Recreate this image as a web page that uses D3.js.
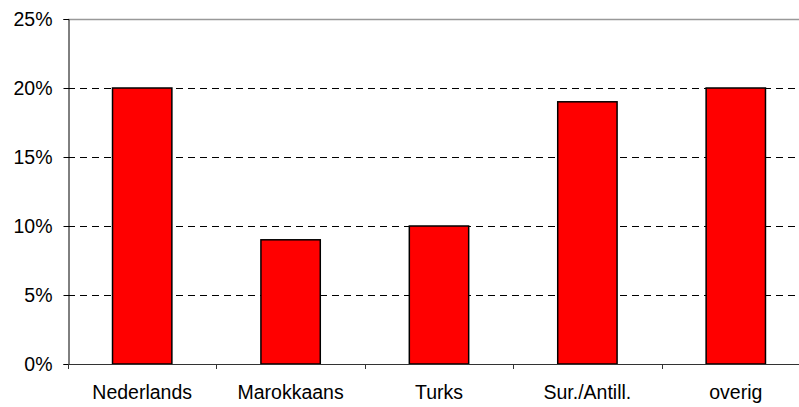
<!DOCTYPE html>
<html>
<head>
<meta charset="utf-8">
<script src="https://cdn.jsdelivr.net/npm/d3@7"></script>
<style>
  body { margin: 0; background: #fff; }
  svg { display: block; font-family: "Liberation Sans", Arial, sans-serif; }
</style>
</head>
<body>
<div id="chart"></div>
<script>
// data
const categories = ['Nederlands', 'Marokkaans', 'Turks', 'Sur./Antill.', 'overig'];
const values = [0.20, 0.09, 0.10, 0.19, 0.20];
const yTicks = [0, 0.05, 0.10, 0.15, 0.20, 0.25];

const width = 799, height = 407;
const margin = { top: 19, left: 68, bottom: 43 };
const plotBottom = height - margin.bottom; // 0% line
const fontSize = 19.5;

const svg = d3.select('#chart').append('svg')
    .attr('width', width)
    .attr('height', height);

// plot runs past the right edge of the picture (cropped), like the reference
const x = d3.scaleBand()
    .domain(categories)
    .range([margin.left, margin.left + 5 * 148.4])
    .paddingInner(0.6)
    .paddingOuter(0.3);

const y = d3.scaleLinear()
    .domain([0, 0.25])
    .range([plotBottom, margin.top]);

// gridlines
svg.append('g')
    .selectAll('line')
    .data(yTicks.filter(d => d > 0 && d < 0.25))
    .join('line')
    .attr('x1', margin.left)
    .attr('x2', width)
    .attr('y1', d => Math.round(y(d)) + 0.5)
    .attr('y2', d => Math.round(y(d)) + 0.5)
    .attr('stroke', '#000')
    .attr('stroke-dasharray', '7,5');

// top border of plot area
svg.append('line')
    .attr('x1', margin.left).attr('x2', width)
    .attr('y1', Math.round(y(0.25)) + 0.5).attr('y2', Math.round(y(0.25)) + 0.5)
    .attr('stroke', '#999')
    .attr('stroke-width', 1.5);

// bars
svg.append('g')
    .selectAll('rect')
    .data(values)
    .join('rect')
    .attr('x', (d, i) => x(categories[i]))
    .attr('y', d => y(d))
    .attr('width', x.bandwidth())
    .attr('height', d => y(0) - y(d))
    .attr('fill', '#ff0000')
    .attr('stroke', '#000')
    .attr('stroke-width', 1.5);

// y axis
const yAxis = d3.axisLeft(y)
    .tickValues(yTicks)
    .tickFormat(d3.format('.0%'))
    .tickSize(5)
    .tickPadding(11);

svg.append('g')
    .attr('transform', `translate(${margin.left + 0.5},0)`)
    .call(yAxis)
    .call(g => g.select('.domain').attr('stroke', '#000'))
    .call(g => g.selectAll('text')
        .attr('font-size', fontSize)
        .attr('fill', '#000')
        .attr('font-family', '"Liberation Sans", Arial, sans-serif'));

// x axis: tick marks at the category boundaries
const step = x.step();
const boundaries = d3.range(categories.length + 1).map(i => margin.left + i * step);

const xg = svg.append('g');
xg.append('line')
    .attr('x1', margin.left).attr('x2', width)
    .attr('y1', plotBottom + 0.5).attr('y2', plotBottom + 0.5)
    .attr('stroke', '#333');
xg.selectAll('line.tick')
    .data(boundaries)
    .join('line')
    .attr('class', 'tick')
    .attr('x1', d => Math.round(d) + 0.5)
    .attr('x2', d => Math.round(d) + 0.5)
    .attr('y1', plotBottom)
    .attr('y2', plotBottom + 5)
    .attr('stroke', '#333');

xg.selectAll('text')
    .data(categories)
    .join('text')
    .attr('x', d => x(d) + x.bandwidth() / 2)
    .attr('y', plotBottom + 35)
    .attr('text-anchor', 'middle')
    .attr('font-size', fontSize)
    .attr('fill', '#000')
    .text(d => d);
</script>
</body>
</html>
